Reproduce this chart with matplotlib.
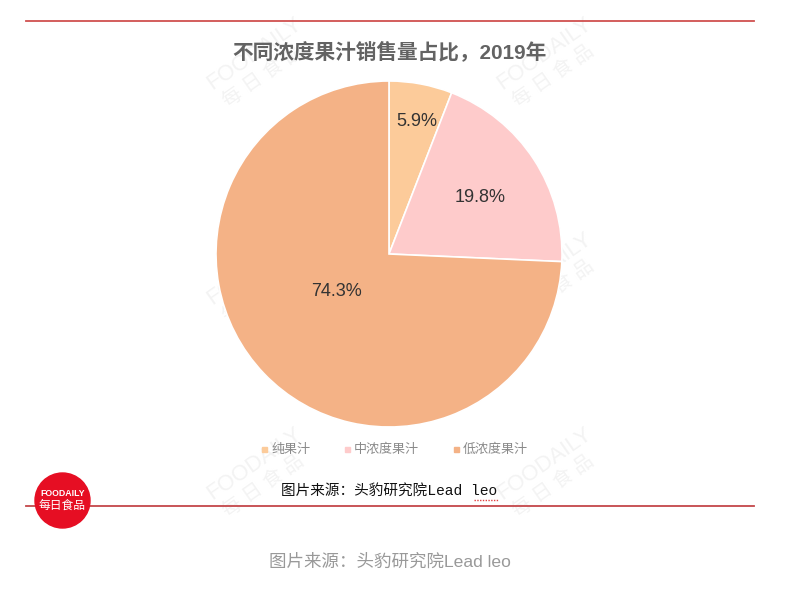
import matplotlib
matplotlib.use("Agg")
import matplotlib.pyplot as plt
from matplotlib.patches import Circle, Rectangle

plt.rcParams['font.family'] = ['Liberation Sans', 'Noto Sans CJK SC', 'DejaVu Sans']

categories = ['纯果汁', '中浓度果汁', '低浓度果汁']
values = [5.9, 19.8, 74.3]
labels = ['5.9%', '19.8%', '74.3%']
colors = ['#FCCB9A', '#FECBCB', '#F4B286']
title = '不同浓度果汁销售量占比，2019年'
source = '图片来源：头豹研究院Lead leo'

W, H = 808, 597
fig = plt.figure(figsize=(W / 100, H / 100), dpi=100, facecolor='white')

bg = fig.add_axes([0, 0, 1, 1])
bg.set_xlim(0, W)
bg.set_ylim(H, 0)
bg.axis('off')

# Watermarks
for (x, y) in [(250, 60), (540, 60), (250, 275), (540, 275), (250, 470), (540, 470)]:
    bg.text(x + 4, y - 6, 'FOODAILY', color='#F3F3F3', fontsize=16, rotation=35,
            ha='center', va='center', zorder=1)
    bg.text(x + 13, y + 16, '每 日 食 品', color='#F3F3F3', fontsize=14, rotation=35,
            ha='center', va='center', zorder=1)

# Rules
bg.plot([26, 754], [21, 21], color='#D0504F', lw=1.3, zorder=2)
bg.plot([26, 754], [506, 506], color='#C4474A', lw=1.3, zorder=2)

# Title
bg.text(389, 52, title, ha='center', va='center', fontsize=14.9, fontweight='bold',
        color='#636363', zorder=3)

# Pie
cx, cy, r = 389, 254, 173
ax = fig.add_axes([(cx - r) / W, 1 - (cy + r) / H, 2 * r / W, 2 * r / H])
wedges, _ = ax.pie(values, colors=colors, startangle=90, counterclock=False, radius=1,
                   wedgeprops=dict(edgecolor='white', linewidth=1.2))
ax.set_xlim(-1, 1)
ax.set_ylim(-1, 1)
ax.patch.set_alpha(0)

label_pos = [(417, 122), (480, 198), (337, 292)]
for (x, y), t in zip(label_pos, labels):
    fig.text(x / W, 1 - y / H, t, ha='center', va='center', fontsize=13,
             color='#333333', zorder=5)

# Legend
leg_pos = [(264, 449), (347, 449), (456, 449)]
for (x, y), c, t in zip(leg_pos, colors, categories):
    bg.add_patch(Rectangle((x - 2.5, y - 2.5), 5, 5, color=c, zorder=3))
    bg.text(x + 7, y + 1, t, ha='left', va='center', fontsize=9.4, color='#8A8A8A', zorder=3)

# Embedded source line
bg.text(389, 491, source, ha='center', va='center', fontsize=10.5, color='#111111', zorder=3,
        family=['Liberation Mono', 'Noto Sans CJK SC', 'DejaVu Sans'])
bg.plot([474, 498], [500, 500], color='#E04040', lw=1, ls=(0, (1, 1)), zorder=3)

# Logo
bg.add_patch(Circle((62.5, 500.5), 27.5, color='#E60E23', zorder=4))
bg.text(62.5, 494, 'FOODAILY', color='white', fontsize=6.3, fontweight='bold',
        ha='center', va='center', zorder=5)
bg.text(62.5, 506, '每日食品', color='white', fontsize=8.5,
        ha='center', va='center', zorder=5)

# Caption
bg.text(390, 562, source, ha='center', va='center', fontsize=12.6, color='#999999', zorder=3)

fig.savefig('out.png', dpi=100, facecolor='white')
